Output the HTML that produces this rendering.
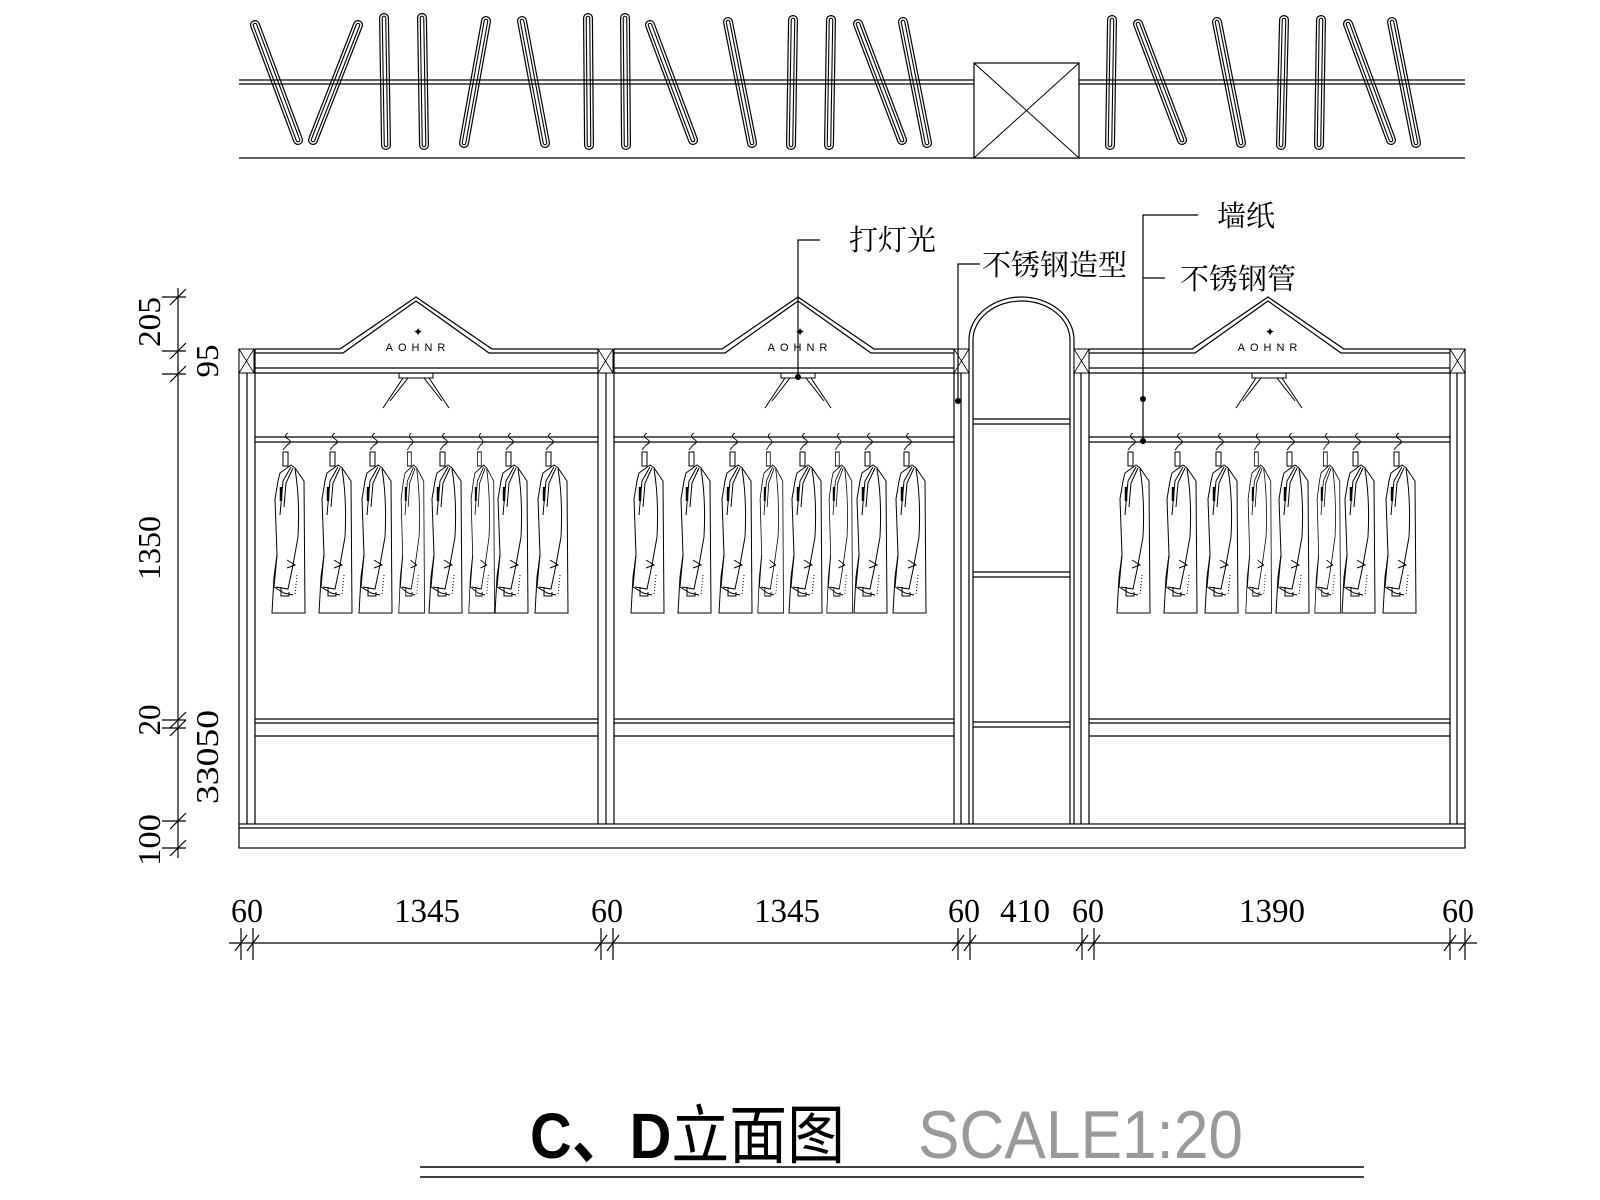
<!DOCTYPE html>
<html><head><meta charset="utf-8"><style>
html,body{margin:0;padding:0;background:#fff;}
svg{display:block;}
</style></head><body>
<svg width="1600" height="1200" viewBox="0 0 1600 1200" xmlns="http://www.w3.org/2000/svg">
<defs>
<symbol id="coat" overflow="visible">
<g fill="none" stroke="#000" stroke-width="1">
<path d="M17,-4 q-5,3 0,6 q5,3 -1,6 l-4,5"/>
<rect x="12" y="15" width="5" height="14" fill="#fff"/>
<path d="M9,36 L20,28 L24,31 L33,44 L34,176 L1,176 L3,140 L6,118 L4,62 L7,44 Z" fill="#fff"/>
<path d="M20,30 L12,44 L9,78"/>
<path d="M22,31 L15,46 L13,70"/>
<path d="M10,50 L10,64" stroke-width="2.5"/>
<path d="M24,32 Q29,62 27,100 L22,128 L17,152 L5,150"/>
<path d="M6,118 L3,150 L13,156 L22,158"/>
<path d="M16,123 L24,128 L16,131"/>
<path d="M10,150 L10,159 L18,159 L18,155"/>
<path d="M26,138 L24,158" stroke-dasharray="1 2"/>
</g>
</symbol>
<symbol id="xb" overflow="visible">
<rect x="0" y="0" width="15" height="24" fill="#fff" stroke="#000"/>
<path d="M0,0 L15,24 M15,0 L0,24" stroke="#000" stroke-width=".8"/>
</symbol>
</defs>

<g stroke="#000" fill="none" stroke-width="1.2">
<g stroke-linecap="round">
<path d="M255,25L298,140M358,25L313,140M384,18L386,145M422,18L424,145M486,21L464,143M522,21L545,143M588,18L589,145M625,18L626,145M650,25L693,140M728,22L752,143M793,20L791,145M831,20L829,145M858,24L902,140M903,22L927,143M1112,20L1110,145M1138,24L1182,140M1217,22L1241,143M1284,20L1281,145M1321,20L1319,145M1348,24L1391,140M1392,22L1416,143" stroke="#000" stroke-width="10"/>
<path d="M255,25L298,140M358,25L313,140M384,18L386,145M422,18L424,145M486,21L464,143M522,21L545,143M588,18L589,145M625,18L626,145M650,25L693,140M728,22L752,143M793,20L791,145M831,20L829,145M858,24L902,140M903,22L927,143M1112,20L1110,145M1138,24L1182,140M1217,22L1241,143M1284,20L1281,145M1321,20L1319,145M1348,24L1391,140M1392,22L1416,143" stroke="#fff" stroke-width="7.6"/>
<path d="M255,25L298,140M358,25L313,140M384,18L386,145M422,18L424,145M486,21L464,143M522,21L545,143M588,18L589,145M625,18L626,145M650,25L693,140M728,22L752,143M793,20L791,145M831,20L829,145M858,24L902,140M903,22L927,143M1112,20L1110,145M1138,24L1182,140M1217,22L1241,143M1284,20L1281,145M1321,20L1319,145M1348,24L1391,140M1392,22L1416,143" stroke="#000" stroke-width="4.6"/>
<path d="M255,25L298,140M358,25L313,140M384,18L386,145M422,18L424,145M486,21L464,143M522,21L545,143M588,18L589,145M625,18L626,145M650,25L693,140M728,22L752,143M793,20L791,145M831,20L829,145M858,24L902,140M903,22L927,143M1112,20L1110,145M1138,24L1182,140M1217,22L1241,143M1284,20L1281,145M1321,20L1319,145M1348,24L1391,140M1392,22L1416,143" stroke="#fff" stroke-width="2.4"/>
</g>
<path d="M239,80H974M239,84H974M1079,80H1465M1079,84H1465"/>
<path d="M239,158H1465"/>
<rect x="974" y="63" width="105" height="95" fill="#fff"/>
<path d="M974,63L1079,158M1079,63L974,158" stroke-width="1"/>

<rect x="239" y="824" width="1226" height="24"/>
<path d="M239,828H1465"/>
<path d="M239,349V824M247,373V824M255,349V824"/>
<path d="M598,349V824M606,373V824M614,349V824"/>
<path d="M954,349V824M961,373V824M969,340V824M973,340V824"/>
<path d="M1070,340V824M1074,340V824M1081,373V824M1089,349V824"/>
<path d="M1450,349V824M1457,373V824M1465,349V824"/>
<path d="M969,340 A52.5,43 0 0 1 1074,340"/>
<path d="M973,340 A48.5,39 0 0 1 1070,340"/>
<path d="M973,419H1070M973,424H1070M973,572H1070M973,577H1070M973,722H1070M973,727H1070"/>
<path d="M255,349H340L416,297L492,349H598M255,353H343L416,301L489,353H598M255,368H598M255,373H598"/>
<path d="M614,349H722L798,297L874,349H954M614,353H725L798,301L871,353H954M614,368H954M614,373H954"/>
<path d="M1089,349H1192L1268,297L1344,349H1450M1089,353H1195L1268,301L1341,353H1450M1089,368H1450M1089,373H1450"/>
<path d="M255,437H598M255,442H598M614,437H954M614,442H954M1089,437H1450M1089,442H1450"/>
<path d="M255,719H598M255,723H598M255,736H598M614,719H954M614,723H954M614,736H954M1089,719H1450M1089,723H1450M1089,736H1450"/>
<g stroke-width="1">
<rect x="399" y="373" width="34" height="5"/>
<path d="M403,378L383,408M408,378L390,401M429,378L449,408M424,378L442,401"/>
<rect x="781" y="373" width="34" height="5"/>
<path d="M785,378L765,408M790,378L772,401M811,378L831,408M806,378L824,401"/>
<rect x="1252" y="373" width="34" height="5"/>
<path d="M1256,378L1236,408M1261,378L1243,401M1282,378L1302,408M1277,378L1295,401"/>
</g>
</g>
<use href="#xb" x="239" y="349"/><use href="#xb" x="598" y="349"/><use href="#xb" x="954" y="349"/><use href="#xb" x="1074" y="349"/><use href="#xb" x="1450" y="349"/>

<g font-family="Liberation Sans, sans-serif" font-size="11" text-anchor="middle" fill="#000">
<text x="418" y="351" letter-spacing="5">AOHNR</text>
<text x="800" y="351" letter-spacing="5">AOHNR</text>
<text x="1270" y="351" letter-spacing="5">AOHNR</text>
<text x="418" y="336" font-size="12">✦</text>
<text x="800" y="336" font-size="12">✦</text>
<text x="1270" y="336" font-size="12">✦</text>
</g>

<g>
<use href="#coat" x="271" y="437"/><use href="#coat" x="318" y="437"/><use href="#coat" x="358" y="437"/>
<use href="#coat" x="398" y="437" transform="translate(398,0) scale(.78,1) translate(-398,0)"/>
<use href="#coat" x="428" y="437"/>
<use href="#coat" x="468" y="437" transform="translate(468,0) scale(.78,1) translate(-468,0)"/>
<use href="#coat" x="494" y="437"/><use href="#coat" x="534" y="437"/>
<use href="#coat" x="630" y="437"/><use href="#coat" x="677" y="437"/><use href="#coat" x="718" y="437"/>
<use href="#coat" x="757" y="437" transform="translate(757,0) scale(.78,1) translate(-757,0)"/>
<use href="#coat" x="788" y="437"/>
<use href="#coat" x="826" y="437" transform="translate(826,0) scale(.78,1) translate(-826,0)"/>
<use href="#coat" x="853" y="437"/><use href="#coat" x="892" y="437"/>
<use href="#coat" x="1116" y="437"/><use href="#coat" x="1163" y="437"/><use href="#coat" x="1204" y="437"/>
<use href="#coat" x="1245" y="437" transform="translate(1245,0) scale(.78,1) translate(-1245,0)"/>
<use href="#coat" x="1275" y="437"/>
<use href="#coat" x="1314" y="437" transform="translate(1314,0) scale(.78,1) translate(-1314,0)"/>
<use href="#coat" x="1341" y="437"/><use href="#coat" x="1382" y="437"/>
</g>

<g stroke="#000" fill="none" stroke-width="1.2">
<path d="M820,240H798V377"/>
<path d="M980,264H958V401"/>
<path d="M1198,215H1143V441M1143,278H1165"/>
</g>
<g fill="#000">
<circle cx="798" cy="377" r="3"/><circle cx="958" cy="401" r="3"/><circle cx="1143" cy="399" r="3"/><circle cx="1143" cy="441" r="3"/>
</g>
<g font-family="Liberation Serif, 'Noto Serif CJK SC', serif" font-size="29" fill="#000">
<text x="849" y="250">打灯光</text>
<text x="982" y="275">不锈钢造型</text>
<text x="1217" y="226">墙纸</text>
<text x="1180" y="289">不锈钢管</text>
</g>

<g stroke="#000" stroke-width="1.2" fill="none">
<path d="M178,288V858"/>
<path d="M162,297H186M162,351H186M162,374H186M162,720H186M162,728H186M162,821H186M162,848H186"/>
<path d="M170,305L186,289M170,359L186,343M170,382L186,366M170,728L186,712M170,736L186,720M170,829L186,813M170,856L186,840"/>
</g>
<g font-family="Liberation Serif, serif" font-size="32" fill="#000" text-anchor="middle">
<text transform="translate(160,322) rotate(-90)" textLength="50" lengthAdjust="spacingAndGlyphs">205</text>
<text transform="translate(218,361) rotate(-90)" textLength="33" lengthAdjust="spacingAndGlyphs">95</text>
<text transform="translate(160,548) rotate(-90)" textLength="64" lengthAdjust="spacingAndGlyphs">1350</text>
<text transform="translate(160,720) rotate(-90)" textLength="31" lengthAdjust="spacingAndGlyphs">20</text>
<text transform="translate(218,757) rotate(-90)" textLength="94" lengthAdjust="spacingAndGlyphs">33050</text>
<text transform="translate(160,840) rotate(-90)" textLength="52" lengthAdjust="spacingAndGlyphs">100</text>
</g>

<g stroke="#000" stroke-width="1.2" fill="none">
<path d="M229,943H1477"/>
<path d="M241,928V960M253,928V960M601,928V960M613,928V960M958,928V960M970,928V960M1082,928V960M1094,928V960M1450,928V960M1465,928V960"/>
<path d="M235,951L247,935M247,951L259,935M595,951L607,935M607,951L619,935M952,951L964,935M964,951L976,935M1076,951L1088,935M1088,951L1100,935M1444,951L1456,935M1459,951L1471,935"/>
</g>
<g font-family="Liberation Serif, serif" font-size="34" fill="#000" text-anchor="middle">
<text x="247" y="922" textLength="32" lengthAdjust="spacingAndGlyphs">60</text>
<text x="427" y="922" textLength="66" lengthAdjust="spacingAndGlyphs">1345</text>
<text x="607" y="922" textLength="32" lengthAdjust="spacingAndGlyphs">60</text>
<text x="787" y="922" textLength="66" lengthAdjust="spacingAndGlyphs">1345</text>
<text x="964" y="922" textLength="32" lengthAdjust="spacingAndGlyphs">60</text>
<text x="1025" y="922" textLength="50" lengthAdjust="spacingAndGlyphs">410</text>
<text x="1088" y="922" textLength="32" lengthAdjust="spacingAndGlyphs">60</text>
<text x="1272" y="922" textLength="66" lengthAdjust="spacingAndGlyphs">1390</text>
<text x="1458" y="922" textLength="32" lengthAdjust="spacingAndGlyphs">60</text>
</g>

<text x="530" y="1158" font-family="Liberation Sans, 'Noto Sans CJK SC', sans-serif" font-size="64" fill="#000" textLength="315" lengthAdjust="spacingAndGlyphs"><tspan font-weight="bold">C、D</tspan>立面图</text>
<text x="918" y="1158" font-family="Liberation Sans Narrow, Liberation Sans, sans-serif" font-size="68" fill="#999" textLength="325" lengthAdjust="spacingAndGlyphs">SCALE1:20</text>
<path d="M420,1167H1364M420,1177H1364" stroke="#000" stroke-width="1.4"/>
</svg>
</body></html>
